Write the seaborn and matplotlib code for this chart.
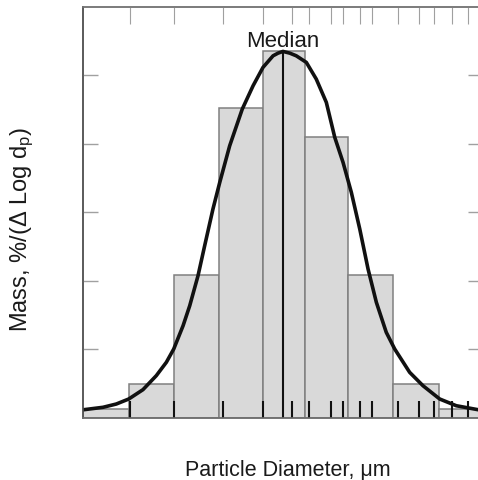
import numpy as np
import pandas as pd
import matplotlib
matplotlib.use("Agg")
import matplotlib.pyplot as plt
from matplotlib.ticker import NullLocator, FixedLocator, NullFormatter
import seaborn as sns

# -----------------------------
# data (x in um, y in tick units)
# -----------------------------
bin_edges = [0.25, 0.509, 1.03, 2.07, 4.08, 7.91, 15.4, 31.1, 63.3, 130]
bin_mass = [0.13, 0.50, 2.09, 4.52, 5.35, 4.09, 2.09, 0.50, 0.13]

# fitted curve, x read as log10(dp in um)
curve_log_dp = [-0.602, -0.469, -0.379, -0.295, -0.199, -0.109, -0.041, 0.009,
                0.072, 0.117, 0.173, 0.218, 0.274, 0.320, 0.387, 0.472,
                0.545, 0.612, 0.680, 0.714, 0.747, 0.793, 0.837, 0.905,
                0.972, 1.040, 1.097, 1.153, 1.209, 1.266, 1.322, 1.378,
                1.445, 1.502, 1.603, 1.693, 1.806, 1.918, 2.065]
curve_mass = [0.12, 0.156, 0.204, 0.277, 0.413, 0.617, 0.812, 1.006,
              1.345, 1.637, 2.074, 2.512, 3.047, 3.436, 3.969, 4.504,
              4.844, 5.112, 5.281, 5.32, 5.345, 5.32, 5.281, 5.185,
              4.942, 4.602, 4.092, 3.727, 3.290, 2.755, 2.172, 1.687,
              1.249, 1.006, 0.666, 0.471, 0.277, 0.179, 0.121]

median_dp = 5.59
median_peak = 5.345

x_ticks = [0.513, 1.03, 2.21, 4.08, 6.40, 8.37, 11.8, 14.3, 18.5, 22.4,
           33.6, 46.6, 58.6, 77.1, 99.8]
y_ticks = [1, 2, 3, 4, 5]

# bar table: one row per bin, centred (geometrically) in its bin
edges = np.array(bin_edges)
bars = pd.DataFrame({"dp": np.sqrt(edges[:-1] * edges[1:]), "mass": bin_mass})
curve = pd.DataFrame({"dp": 10 ** np.array(curve_log_dp), "mass": curve_mass})

# -----------------------------
# style
# -----------------------------
sns.set_style("ticks")
plt.rcParams["font.family"] = ["Liberation Sans", "DejaVu Sans"]
plt.rcParams["mathtext.default"] = "regular"

fig = plt.figure(figsize=(4.78, 4.81), dpi=100)
ax = fig.add_axes([83.3 / 478, 62 / 481, (483 - 83.3) / 478, (419 - 7.5) / 481])
ax.set_axisbelow(False)

# bars (bins given in log space because of log_scale)
sns.histplot(data=bars, x="dp", weights="mass",
             bins=[float(b) for b in np.log10(edges)],
             log_scale=True, stat="count", color="#d9d9d9", alpha=1,
             edgecolor="#808080", linewidth=1.1, ax=ax)

# fitted curve
sns.lineplot(data=curve, x="dp", y="mass", color="#111111", linewidth=2.6,
             ax=ax, zorder=4)

# median line
ax.vlines(median_dp, 0, median_peak, color="#111111", linewidth=1.5, zorder=4)
ax.text(median_dp, 5.43, "Median", ha="center", va="baseline", fontsize=16,
        color="#1a1a1a")

ax.set_xlim(0.25, 125.5)
ax.set_ylim(0, 6)
ax.set_xlabel("")
ax.set_ylabel("")

# bottom ticks: black, thick, inward
ax.xaxis.set_major_locator(FixedLocator(x_ticks))
ax.xaxis.set_minor_locator(NullLocator())
ax.xaxis.set_major_formatter(NullFormatter())
ax.xaxis.set_minor_formatter(NullFormatter())
ax.tick_params(axis="x", which="major", direction="in", length=12.6,
               width=1.5, color="#111111", top=False, bottom=True,
               labelbottom=False)

# y ticks: gray, both sides
ax.yaxis.set_major_locator(FixedLocator(y_ticks))
ax.yaxis.set_minor_locator(NullLocator())
ax.tick_params(axis="y", which="major", direction="in", length=10.8,
               width=1.0, color="#a0a0a0", left=True, right=True,
               labelleft=False)

# top ticks: gray, thin
top = ax.twiny()
top.set_xscale("log")
top.set_xlim(ax.get_xlim())
top.xaxis.set_major_locator(FixedLocator(x_ticks))
top.xaxis.set_minor_locator(NullLocator())
top.xaxis.set_major_formatter(NullFormatter())
top.xaxis.set_minor_formatter(NullFormatter())
top.tick_params(axis="x", which="major", direction="in", length=12.2,
                width=0.8, color="#a0a0a0", top=True, bottom=False,
                labeltop=False)

for a in (ax, top):
    for side in ["left", "right", "top", "bottom"]:
        a.spines[side].set_visible(True)
        a.spines[side].set_linewidth(1.1)
    a.spines["left"].set_color("#555555")
    a.spines["top"].set_color("#777777")
    a.spines["bottom"].set_color("#707070")
    a.spines["right"].set_color("#777777")

fig.text(288 / 478, (481 - 476.5) / 481, "Particle Diameter, \u03bcm",
         ha="center", va="baseline", fontsize=15.5, color="#1a1a1a")
fig.text(22 / 478, (481 - 229) / 481, "Mass, %/(\u0394 Log d$_p$)",
         ha="center", va="center", rotation=90, fontsize=17,
         color="#1a1a1a")

fig.savefig("out.png", dpi=100)
